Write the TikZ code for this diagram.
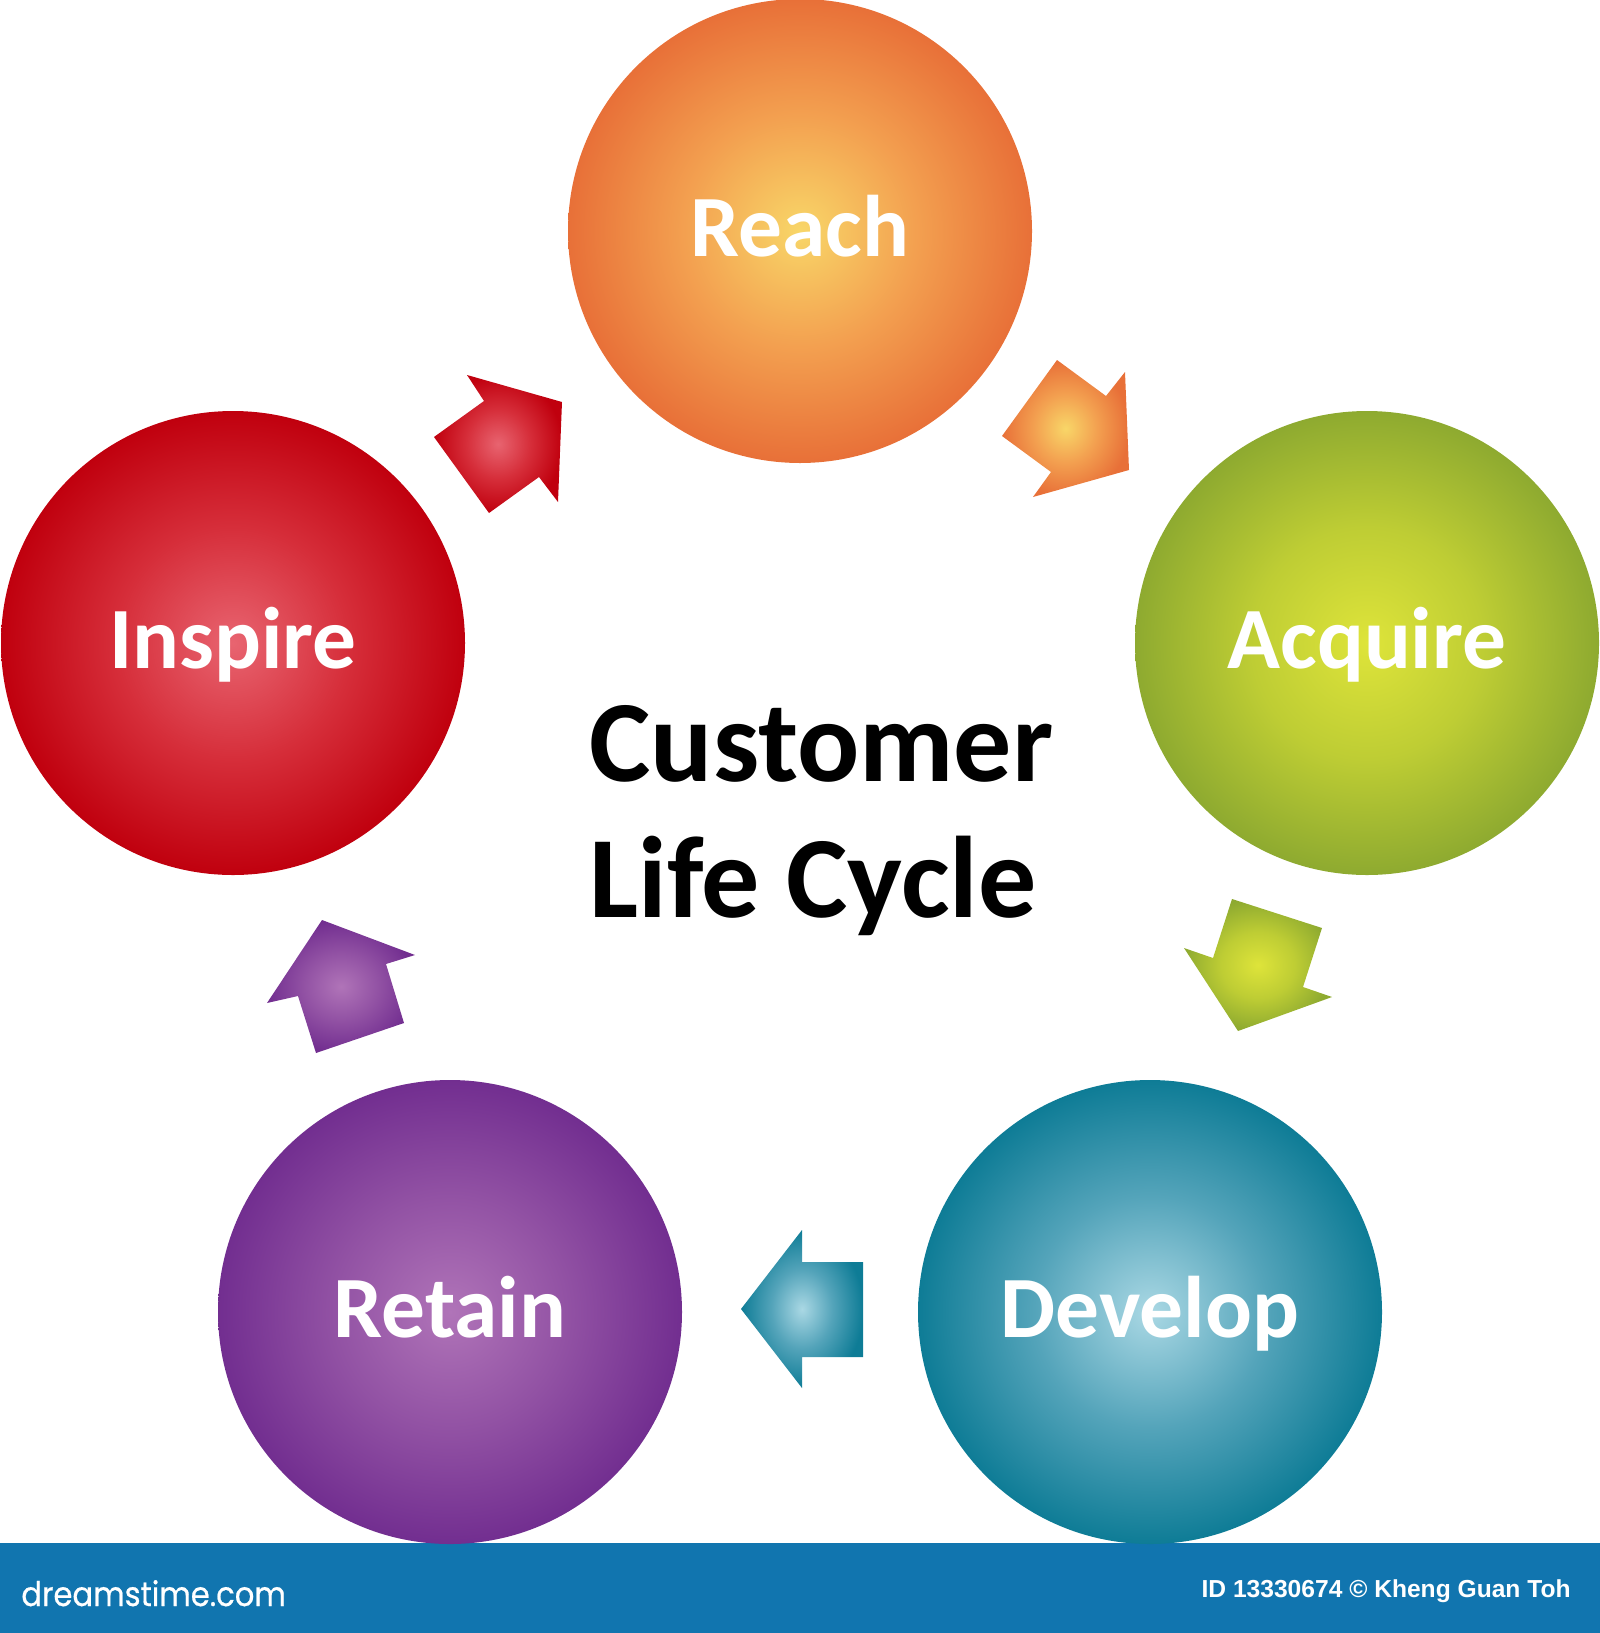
\documentclass[tikz,border=0pt]{standalone}
\usepackage{xcolor}
\usepackage{fontspec}
\setmainfont{Carlito}
\newfontfamily\barfont{Liberation Sans}
\newfontfamily\logofont{Poppins}[FakeStretch=0.9, FakeBold=0.6]
\usepackage{tikz}
\pgfdeclarelayer{nodelayer}
\pgfdeclarelayer{edgelayer}
\pgfsetlayers{edgelayer,nodelayer,main}
\definecolor{barblue}{HTML}{1175AF}
\definecolor{reach0}{RGB}{248,214,104}
\definecolor{reach1}{RGB}{243,160,80}
\definecolor{reach2}{RGB}{232,112,56}
\definecolor{acquire0}{RGB}{222,228,58}
\definecolor{acquire1}{RGB}{190,205,52}
\definecolor{acquire2}{RGB}{142,170,48}
\definecolor{develop0}{RGB}{170,216,228}
\definecolor{develop1}{RGB}{84,164,186}
\definecolor{develop2}{RGB}{14,124,150}
\definecolor{retain0}{RGB}{176,116,184}
\definecolor{retain1}{RGB}{146,82,164}
\definecolor{retain2}{RGB}{114,46,144}
\definecolor{inspire0}{RGB}{232,100,112}
\definecolor{inspire1}{RGB}{214,46,58}
\definecolor{inspire2}{RGB}{192,0,14}
\pgfdeclareradialshading{reachglow}{\pgfpoint{0bp}{0bp}}{color(0bp)=(reach0); color(12.5bp)=(reach1); color(25bp)=(reach2); color(50bp)=(reach2)}
\pgfdeclareradialshading{acquireglow}{\pgfpoint{0bp}{0bp}}{color(0bp)=(acquire0); color(12.5bp)=(acquire1); color(25bp)=(acquire2); color(50bp)=(acquire2)}
\pgfdeclareradialshading{developglow}{\pgfpoint{0bp}{0bp}}{color(0bp)=(develop0); color(12.5bp)=(develop1); color(25bp)=(develop2); color(50bp)=(develop2)}
\pgfdeclareradialshading{retainglow}{\pgfpoint{0bp}{0bp}}{color(0bp)=(retain0); color(12.5bp)=(retain1); color(25bp)=(retain2); color(50bp)=(retain2)}
\pgfdeclareradialshading{inspireglow}{\pgfpoint{0bp}{0bp}}{color(0bp)=(inspire0); color(12.5bp)=(inspire1); color(25bp)=(inspire2); color(50bp)=(inspire2)}
\tikzset{
    bubble/.style={circle, shade, inner sep=0pt, minimum size=232pt, text height=32pt, text depth=7pt, text=white, font=\fontsize{43.7}{50}\selectfont\bfseries},
    blockarrow/.style={shade, draw=none},
}
\begin{document}
\begin{tikzpicture}[x=0.5pt, y=-0.5pt]
        \useasboundingbox (0, 0) rectangle (1600, 1633);
        \begin{pgfonlayer}{edgelayer}
            \fill [barblue] (0, 1543) rectangle (1600, 1633);
            \path [blockarrow, shading=reachglow] (1057, 360) -- (1106, 396) -- (1125, 372) -- (1129, 470) -- (1033, 497) -- (1051, 472) -- (1002, 436) -- cycle;
            \path [blockarrow, shading=acquireglow] (1232, 899) -- (1322, 928) -- (1303, 987) -- (1332, 997) -- (1238, 1031) -- (1184, 948) -- (1213, 958) -- cycle;
            \path [blockarrow, shading=developglow] (863, 1262) -- (802, 1262) -- (802, 1230) -- (741, 1309) -- (802, 1388) -- (802, 1357) -- (863, 1357) -- cycle;
            \path [blockarrow, shading=retainglow] (404, 1023) -- (386, 964) -- (415, 955) -- (322, 920) -- (267, 1003) -- (298, 996) -- (316, 1053) -- cycle;
            \path [blockarrow, shading=inspireglow] (434, 437) -- (484, 401) -- (467, 375) -- (562, 402) -- (558, 502) -- (539, 477) -- (489, 513) -- cycle;
        \end{pgfonlayer}
        \begin{pgfonlayer}{nodelayer}
            \node [bubble, shading=reachglow] (reach) at (800, 231) {Reach};
            \node [bubble, shading=acquireglow] (acquire) at (1367, 643) {Acquire};
            \node [bubble, shading=developglow] (develop) at (1150, 1312) {Develop};
            \node [bubble, shading=retainglow] (retain) at (450, 1312) {Retain};
            \node [bubble, shading=inspireglow] (inspire) at (233, 643) {Inspire};
            \node [anchor=base west, align=left, inner sep=0pt, font=\fontsize{58}{68}\selectfont\bfseries] (title) at (589, 917) {Customer\\Life Cycle};
            \node [anchor=base west, inner sep=0pt, text=white, font=\logofont\fontsize{17}{20}\selectfont] (logo) at (21, 1606) {dreamstime.com};
            \node [anchor=base east, inner sep=0pt, text=white, font=\barfont\fontsize{12.3}{16}\selectfont\bfseries] (credit) at (1571, 1597) {ID 13330674 © Kheng Guan Toh};
        \end{pgfonlayer}
    \end{tikzpicture}
\end{document}
